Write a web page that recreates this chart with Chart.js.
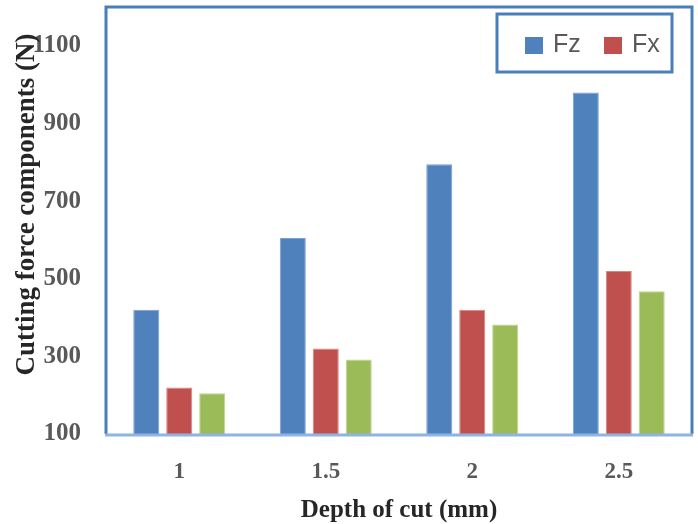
<!DOCTYPE html>
<html>
<head>
<meta charset="utf-8">
<script src="https://cdn.jsdelivr.net/npm/chart.js@4"></script>
<style>
  html, body { margin: 0; padding: 0; background: #fff; }
  #wrap { width: 698px; height: 524px; }
</style>
</head>
<body>
<div id="wrap"><canvas id="force-chart" width="698" height="524"></canvas></div>
<script>
// depth of cut (mm)
const depths = ['1', '1.5', '2', '2.5'];
// cutting force components (N)
const fz = [420, 605, 795, 980];
const fx = [220, 320, 420, 520];
const fy = [205, 292, 382, 468];
const yTicks = [100, 300, 500, 700, 900, 1100];
const legendShown = ['Fz', 'Fx'];
const yTitle = 'Cutting force components (N)';

const tickColor = '#595959';
const borderBlue = '#4a7ebb';

// blue frame round the plot area, the boxed legend, and the y title
const framePlugin = {
    id: 'frame',
    afterDraw: function (chart) {
        const ctx = chart.ctx;
        const a = chart.chartArea;
        ctx.save();
        ctx.strokeStyle = borderBlue;
        ctx.lineWidth = 3;
        ctx.beginPath();
        ctx.moveTo(a.left, a.bottom);
        ctx.lineTo(a.left, a.top);
        ctx.lineTo(a.right, a.top);
        ctx.lineTo(a.right, a.bottom);
        ctx.stroke();
        ctx.strokeStyle = '#8eb4e3';
        ctx.beginPath();
        ctx.moveTo(a.left - 1, a.bottom + 1);
        ctx.lineTo(a.right + 1, a.bottom + 1);
        ctx.stroke();

        // legend box
        const bx = a.right - 195, by = a.top + 7, bw = 175, bh = 58;
        ctx.strokeStyle = borderBlue;
        ctx.lineWidth = 3;
        ctx.strokeRect(bx, by, bw, bh);

        ctx.font = '25px "Liberation Sans"';
        ctx.textBaseline = 'middle';
        let x = bx + 28;
        const cy = by + 31;
        chart.data.datasets.forEach(function (ds) {
            if (legendShown.indexOf(ds.label) < 0) return;
            ctx.fillStyle = ds.backgroundColor;
            ctx.fillRect(x, cy - 8, 18, 17);
            ctx.fillStyle = tickColor;
            ctx.fillText(ds.label, x + 28, cy);
            x += 79;
        });

        // y axis title, a little above the middle as in the source
        ctx.translate(27, (a.top + a.bottom) / 2 - 16);
        ctx.rotate(-Math.PI / 2);
        ctx.textAlign = 'center';
        ctx.textBaseline = 'middle';
        ctx.fillStyle = '#262626';
        ctx.font = 'bold 27px "Liberation Serif"';
        ctx.fillText(yTitle, 0, 0);
        ctx.restore();
    }
};

new Chart(document.getElementById('force-chart').getContext('2d'), {
    type: 'bar',
    plugins: [framePlugin],
    data: {
        labels: depths,
        datasets: [
            { label: 'Fz', data: fz, backgroundColor: '#4f81bd', borderColor: '#7a9fd0', borderWidth: 1 },
            { label: 'Fx', data: fx, backgroundColor: '#c0504d', borderColor: '#d88583', borderWidth: 1 },
            { label: 'Fy', data: fy, backgroundColor: '#9bbb59', borderColor: '#bcd38f', borderWidth: 1 }
        ]
    },
    options: {
        responsive: false,
        animation: false,
        layout: { padding: { top: 7, right: 6, left: 0, bottom: 0 } },
        datasets: {
            bar: { categoryPercentage: 0.675, barPercentage: 0.79 }
        },
        plugins: {
            tooltip: { enabled: false },
            legend: { display: false }
        },
        scales: {
            x: {
                grid: { display: false },
                border: { display: false },
                ticks: {
                    color: tickColor,
                    padding: 16,
                    font: { family: 'Liberation Serif', size: 23, weight: 'bold' }
                },
                title: {
                    display: true,
                    text: 'Depth of cut (mm)',
                    color: '#262626',
                    padding: { top: 4, bottom: -2 },
                    font: { family: 'Liberation Serif', size: 25, weight: 'bold' }
                },
                afterFit: function (scale) { scale.height = 90; }
            },
            y: {
                min: 100,
                max: 1200,
                grid: { display: false },
                border: { display: false },
                afterBuildTicks: function (scale) {
                    scale.ticks = yTicks.map(function (v) { return { value: v }; });
                },
                ticks: {
                    color: tickColor,
                    padding: 17,
                    callback: function (v) { return String(v); },
                    font: { family: 'Liberation Serif', size: 25, weight: 'bold' }
                },
                afterFit: function (scale) {
                    scale.width = 106;
                    scale.paddingTop = 0;
                    scale.paddingBottom = 0;
                }
            }
        }
    }
});
</script>
</body>
</html>
